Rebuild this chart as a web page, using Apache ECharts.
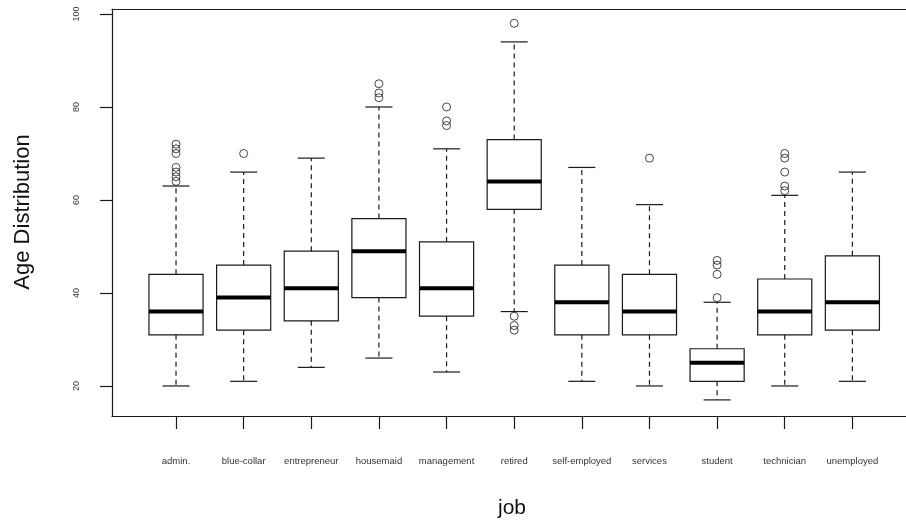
<!DOCTYPE html>
<html>
<head>
<meta charset="utf-8">
<script src="https://cdn.jsdelivr.net/npm/echarts@6/dist/echarts.min.js"></script>
<style>
  html, body { margin: 0; padding: 0; background: #fff; }
  #chart { width: 906px; height: 525px; }
</style>
</head>
<body>
<div id="chart"></div>
<script>
const jobs = ['admin.', 'blue-collar', 'entrepreneur', 'housemaid', 'management', 'retired', 'self-employed', 'services', 'student', 'technician', 'unemployed'];
const lowerWhisker = [20, 21, 24, 26, 23, 36, 21, 20, 17, 20, 21];
const q1 = [31, 32, 34, 39, 35, 58, 31, 31, 21, 31, 32];
const medians = [36, 39, 41, 49, 41, 64, 38, 36, 25, 36, 38];
const q3 = [44, 46, 49, 56, 51, 73, 46, 44, 28, 43, 48];
const upperWhisker = [63, 66, 69, 80, 71, 94, 67, 59, 38, 61, 66];
const outliers = [
  [64, 65, 66, 67, 70, 71, 72],
  [70],
  [],
  [82, 83, 85],
  [76, 77, 80],
  [32, 33, 35, 98],
  [],
  [69],
  [39, 44, 46, 47],
  [62, 63, 66, 69, 70],
  []
];
const yTicks = [20, 40, 60, 80, 100];

const boxData = jobs.map((j, i) => [i, lowerWhisker[i], q1[i], medians[i], q3[i], upperWhisker[i]]);
const outlierData = [];
outliers.forEach((arr, i) => arr.forEach(v => outlierData.push([i, v])));

const INK = '#1a1a1a';
const Y_MIN = 13.54, Y_MAX = 101.075;
const TOP = 9, HEIGHT = 407;
const FONT = '"Liberation Sans", Arial, sans-serif';

const chart = echarts.init(document.getElementById('chart'), null, { renderer: 'canvas' });
chart.setOption({
  animation: false,
  backgroundColor: '#fff',
  grid: [
    { left: 112, top: TOP, width: 804, height: HEIGHT, show: false, containLabel: false },
    { left: 142.2, top: TOP, width: 744, height: HEIGHT, containLabel: false }
  ],
  xAxis: [
    { gridIndex: 0, type: 'value', min: 0, max: 1, position: 'bottom',
      axisLine: { show: true, lineStyle: { color: INK, width: 1.2 } },
      axisTick: { show: false }, axisLabel: { show: false }, splitLine: { show: false } },
    { gridIndex: 0, type: 'value', min: 0, max: 1, position: 'top',
      axisLine: { show: true, lineStyle: { color: INK, width: 1.2 } },
      axisTick: { show: false }, axisLabel: { show: false }, splitLine: { show: false } },
    {
      gridIndex: 1, type: 'category', data: jobs, boundaryGap: true,
      axisLine: { show: false },
      axisTick: { show: true, alignWithLabel: true, length: 13, inside: false, lineStyle: { color: INK, width: 1.2 } },
      axisLabel: { interval: 0, fontSize: 9.5, margin: 40, color: '#333', fontFamily: FONT },
      splitLine: { show: false }
    }
  ],
  yAxis: [
    {
      gridIndex: 0, type: 'value', min: Y_MIN, max: Y_MAX,
      axisLine: { show: true, lineStyle: { color: INK, width: 1.2 } },
      axisTick: { show: true, customValues: yTicks, length: 12, inside: false, lineStyle: { color: INK, width: 1.2 } },
      axisLabel: { customValues: yTicks, rotate: 90, fontSize: 9, margin: 31, color: '#333', fontFamily: FONT },
      splitLine: { show: false }
    },
    { gridIndex: 1, type: 'value', min: Y_MIN, max: Y_MAX, show: false, splitLine: { show: false } }
  ],
  graphic: [
    {
      type: 'text', x: 22.5, y: 212, rotation: Math.PI / 2,
      style: { text: 'Age Distribution', font: '22px ' + FONT, fill: '#111', align: 'center', verticalAlign: 'middle' }
    },
    {
      type: 'text', x: 512, y: 508,
      style: { text: 'job', font: '21px ' + FONT, fill: '#111', align: 'center', verticalAlign: 'middle' }
    }
  ],
  series: [
    {
      type: 'custom',
      xAxisIndex: 2, yAxisIndex: 1,
      data: boxData,
      encode: { x: 0, y: [1, 2, 3, 4, 5] },
      renderItem: function (params, api) {
        const i = api.value(0);
        const pLo = api.coord([i, api.value(1)]);
        const pQ1 = api.coord([i, api.value(2)]);
        const pMed = api.coord([i, api.value(3)]);
        const pQ3 = api.coord([i, api.value(4)]);
        const pHi = api.coord([i, api.value(5)]);
        const bw = api.size([1, 0])[0] * 0.8;
        const cx = pLo[0];
        const lineStyle = { stroke: INK, lineWidth: 1.2, fill: null };
        const dashStyle = { stroke: INK, lineWidth: 1.2, lineDash: [5, 4], fill: null };
        return {
          type: 'group',
          children: [
            { type: 'line', shape: { x1: cx, y1: pQ3[1], x2: cx, y2: pHi[1] }, style: dashStyle },
            { type: 'line', shape: { x1: cx, y1: pQ1[1], x2: cx, y2: pLo[1] }, style: dashStyle },
            { type: 'line', shape: { x1: cx - bw / 4, y1: pHi[1], x2: cx + bw / 4, y2: pHi[1] }, style: lineStyle },
            { type: 'line', shape: { x1: cx - bw / 4, y1: pLo[1], x2: cx + bw / 4, y2: pLo[1] }, style: lineStyle },
            { type: 'rect', shape: { x: cx - bw / 2, y: pQ3[1], width: bw, height: pQ1[1] - pQ3[1] }, style: { stroke: INK, lineWidth: 1.2, fill: 'none' } },
            { type: 'line', shape: { x1: cx - bw / 2, y1: pMed[1], x2: cx + bw / 2, y2: pMed[1] }, style: { stroke: '#000', lineWidth: 4, lineCap: 'butt' } }
          ]
        };
      }
    },
    {
      type: 'scatter',
      xAxisIndex: 2, yAxisIndex: 1,
      data: outlierData,
      symbol: 'circle',
      symbolSize: 8,
      itemStyle: { color: 'rgba(0,0,0,0)', borderColor: INK, borderWidth: 1 },
      emphasis: { disabled: true }
    }
  ]
});
</script>
</body>
</html>
